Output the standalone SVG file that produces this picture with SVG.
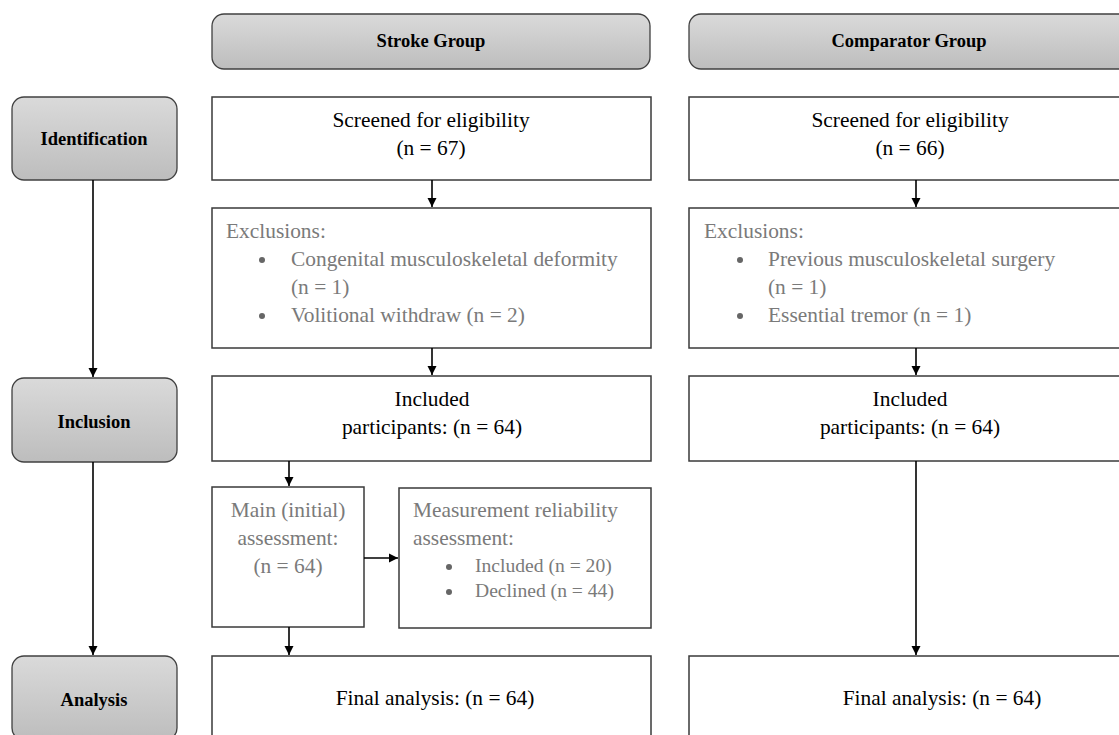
<svg xmlns="http://www.w3.org/2000/svg" width="1119" height="735" viewBox="0 0 1119 735">
<defs>
<linearGradient id="g" x1="0" y1="0" x2="0" y2="1">
<stop offset="0" stop-color="#dadada"/>
<stop offset="1" stop-color="#bdbdbd"/>
</linearGradient>
<marker id="ah" markerUnits="userSpaceOnUse" markerWidth="10" markerHeight="10" refX="9" refY="5" orient="auto">
<path d="M0,0.5 L9,5 L0,9.5 z" fill="#000"/>
</marker>
<style>
.hdr{fill:url(#g);stroke:#404040;stroke-width:1.3}
.box{fill:#fff;stroke:#3a3a3a;stroke-width:1.5}
.t{font-family:"Liberation Serif","Times New Roman",serif;font-size:21.4px;fill:#000}
.b{font-family:"Liberation Serif","Times New Roman",serif;font-size:18.5px;font-weight:bold;fill:#000}
.gr{fill:#7a7a7a}
.bul{fill:#666}
.sm{font-size:19.6px}
.c{text-anchor:middle}
.conn{stroke:#000;stroke-width:1.6;fill:none;marker-end:url(#ah)}
</style>
</defs>
<rect width="1119" height="735" fill="#fff"/>

<g id="hdr-stroke"><rect class="hdr" x="212" y="14" width="438" height="55" rx="12"/><text class="b c" x="431" y="47">Stroke Group</text></g>
<g id="hdr-comp"><rect class="hdr" x="689" y="14" width="442" height="55" rx="12"/><text class="b c" x="909" y="47">Comparator Group</text></g>

<g id="stage-ident"><rect class="hdr" x="12" y="97" width="165" height="83" rx="12"/><text class="b c" x="94" y="145">Identification</text></g>
<g id="stage-incl"><rect class="hdr" x="12" y="378" width="165" height="84" rx="12"/><text class="b c" x="94" y="428">Inclusion</text></g>
<g id="stage-anal"><rect class="hdr" x="12" y="656" width="165" height="84" rx="12"/><text class="b c" x="94" y="706">Analysis</text></g>

<g id="s-screen"><rect class="box" x="212" y="97" width="439" height="83"/><text class="t c" x="431" y="127">Screened for eligibility</text><text class="t c" x="431" y="155">(n = 67)</text></g>
<g id="s-excl"><rect class="box" x="212" y="208" width="439" height="140"/>
<text class="t gr" x="226" y="238">Exclusions:</text>
<circle class="bul" cx="262" cy="260" r="3"/><text class="t gr" x="291" y="266">Congenital musculoskeletal deformity</text>
<text class="t gr" x="291" y="294">(n = 1)</text>
<circle class="bul" cx="262" cy="316" r="3"/><text class="t gr" x="291" y="322">Volitional withdraw (n = 2)</text></g>
<g id="s-incl"><rect class="box" x="212" y="376" width="439" height="85"/><text class="t c" x="432" y="406">Included</text><text class="t c" x="432" y="434">participants: (n = 64)</text></g>
<g id="s-main"><rect class="box" x="212" y="487" width="152" height="140"/><text class="t gr c" x="288" y="517">Main (initial)</text><text class="t gr c" x="288" y="545">assessment:</text><text class="t gr c" x="288" y="573">(n = 64)</text></g>
<g id="s-meas"><rect class="box" x="399" y="488" width="252" height="140"/><text class="t gr" x="413" y="517">Measurement reliability</text><text class="t gr" x="413" y="545">assessment:</text>
<circle class="bul" cx="449" cy="567" r="3"/><text class="t sm gr" x="475" y="572">Included (n = 20)</text>
<circle class="bul" cx="449" cy="592" r="3"/><text class="t sm gr" x="475" y="597">Declined (n = 44)</text></g>
<g id="s-final"><rect class="box" x="212" y="656" width="439" height="84"/><text class="t c" x="435" y="705">Final analysis: (n = 64)</text></g>

<g id="c-screen"><rect class="box" x="689" y="97" width="442" height="83"/><text class="t c" x="910" y="127">Screened for eligibility</text><text class="t c" x="910" y="155">(n = 66)</text></g>
<g id="c-excl"><rect class="box" x="689" y="208" width="442" height="140"/>
<text class="t gr" x="704" y="238">Exclusions:</text>
<circle class="bul" cx="740" cy="260" r="3"/><text class="t gr" x="768" y="266">Previous musculoskeletal surgery</text>
<text class="t gr" x="768" y="294">(n = 1)</text>
<circle class="bul" cx="740" cy="316" r="3"/><text class="t gr" x="768" y="322">Essential tremor (n = 1)</text></g>
<g id="c-incl"><rect class="box" x="689" y="376" width="442" height="85"/><text class="t c" x="910" y="406">Included</text><text class="t c" x="910" y="434">participants: (n = 64)</text></g>
<g id="c-final"><rect class="box" x="689" y="656" width="442" height="84"/><text class="t c" x="942" y="705">Final analysis: (n = 64)</text></g>

<g id="connectors">
<line class="conn" x1="93" y1="180" x2="93" y2="377"/>
<line class="conn" x1="93" y1="462" x2="93" y2="655"/>
<line class="conn" x1="432" y1="180" x2="432" y2="207"/>
<line class="conn" x1="432" y1="348" x2="432" y2="375"/>
<line class="conn" x1="289" y1="461" x2="289" y2="486"/>
<line class="conn" x1="364" y1="558" x2="398" y2="558"/>
<line class="conn" x1="289" y1="627" x2="289" y2="655"/>
<line class="conn" x1="916" y1="180" x2="916" y2="207"/>
<line class="conn" x1="916" y1="348" x2="916" y2="375"/>
<line class="conn" x1="916" y1="461" x2="916" y2="655"/>
</g>
</svg>
